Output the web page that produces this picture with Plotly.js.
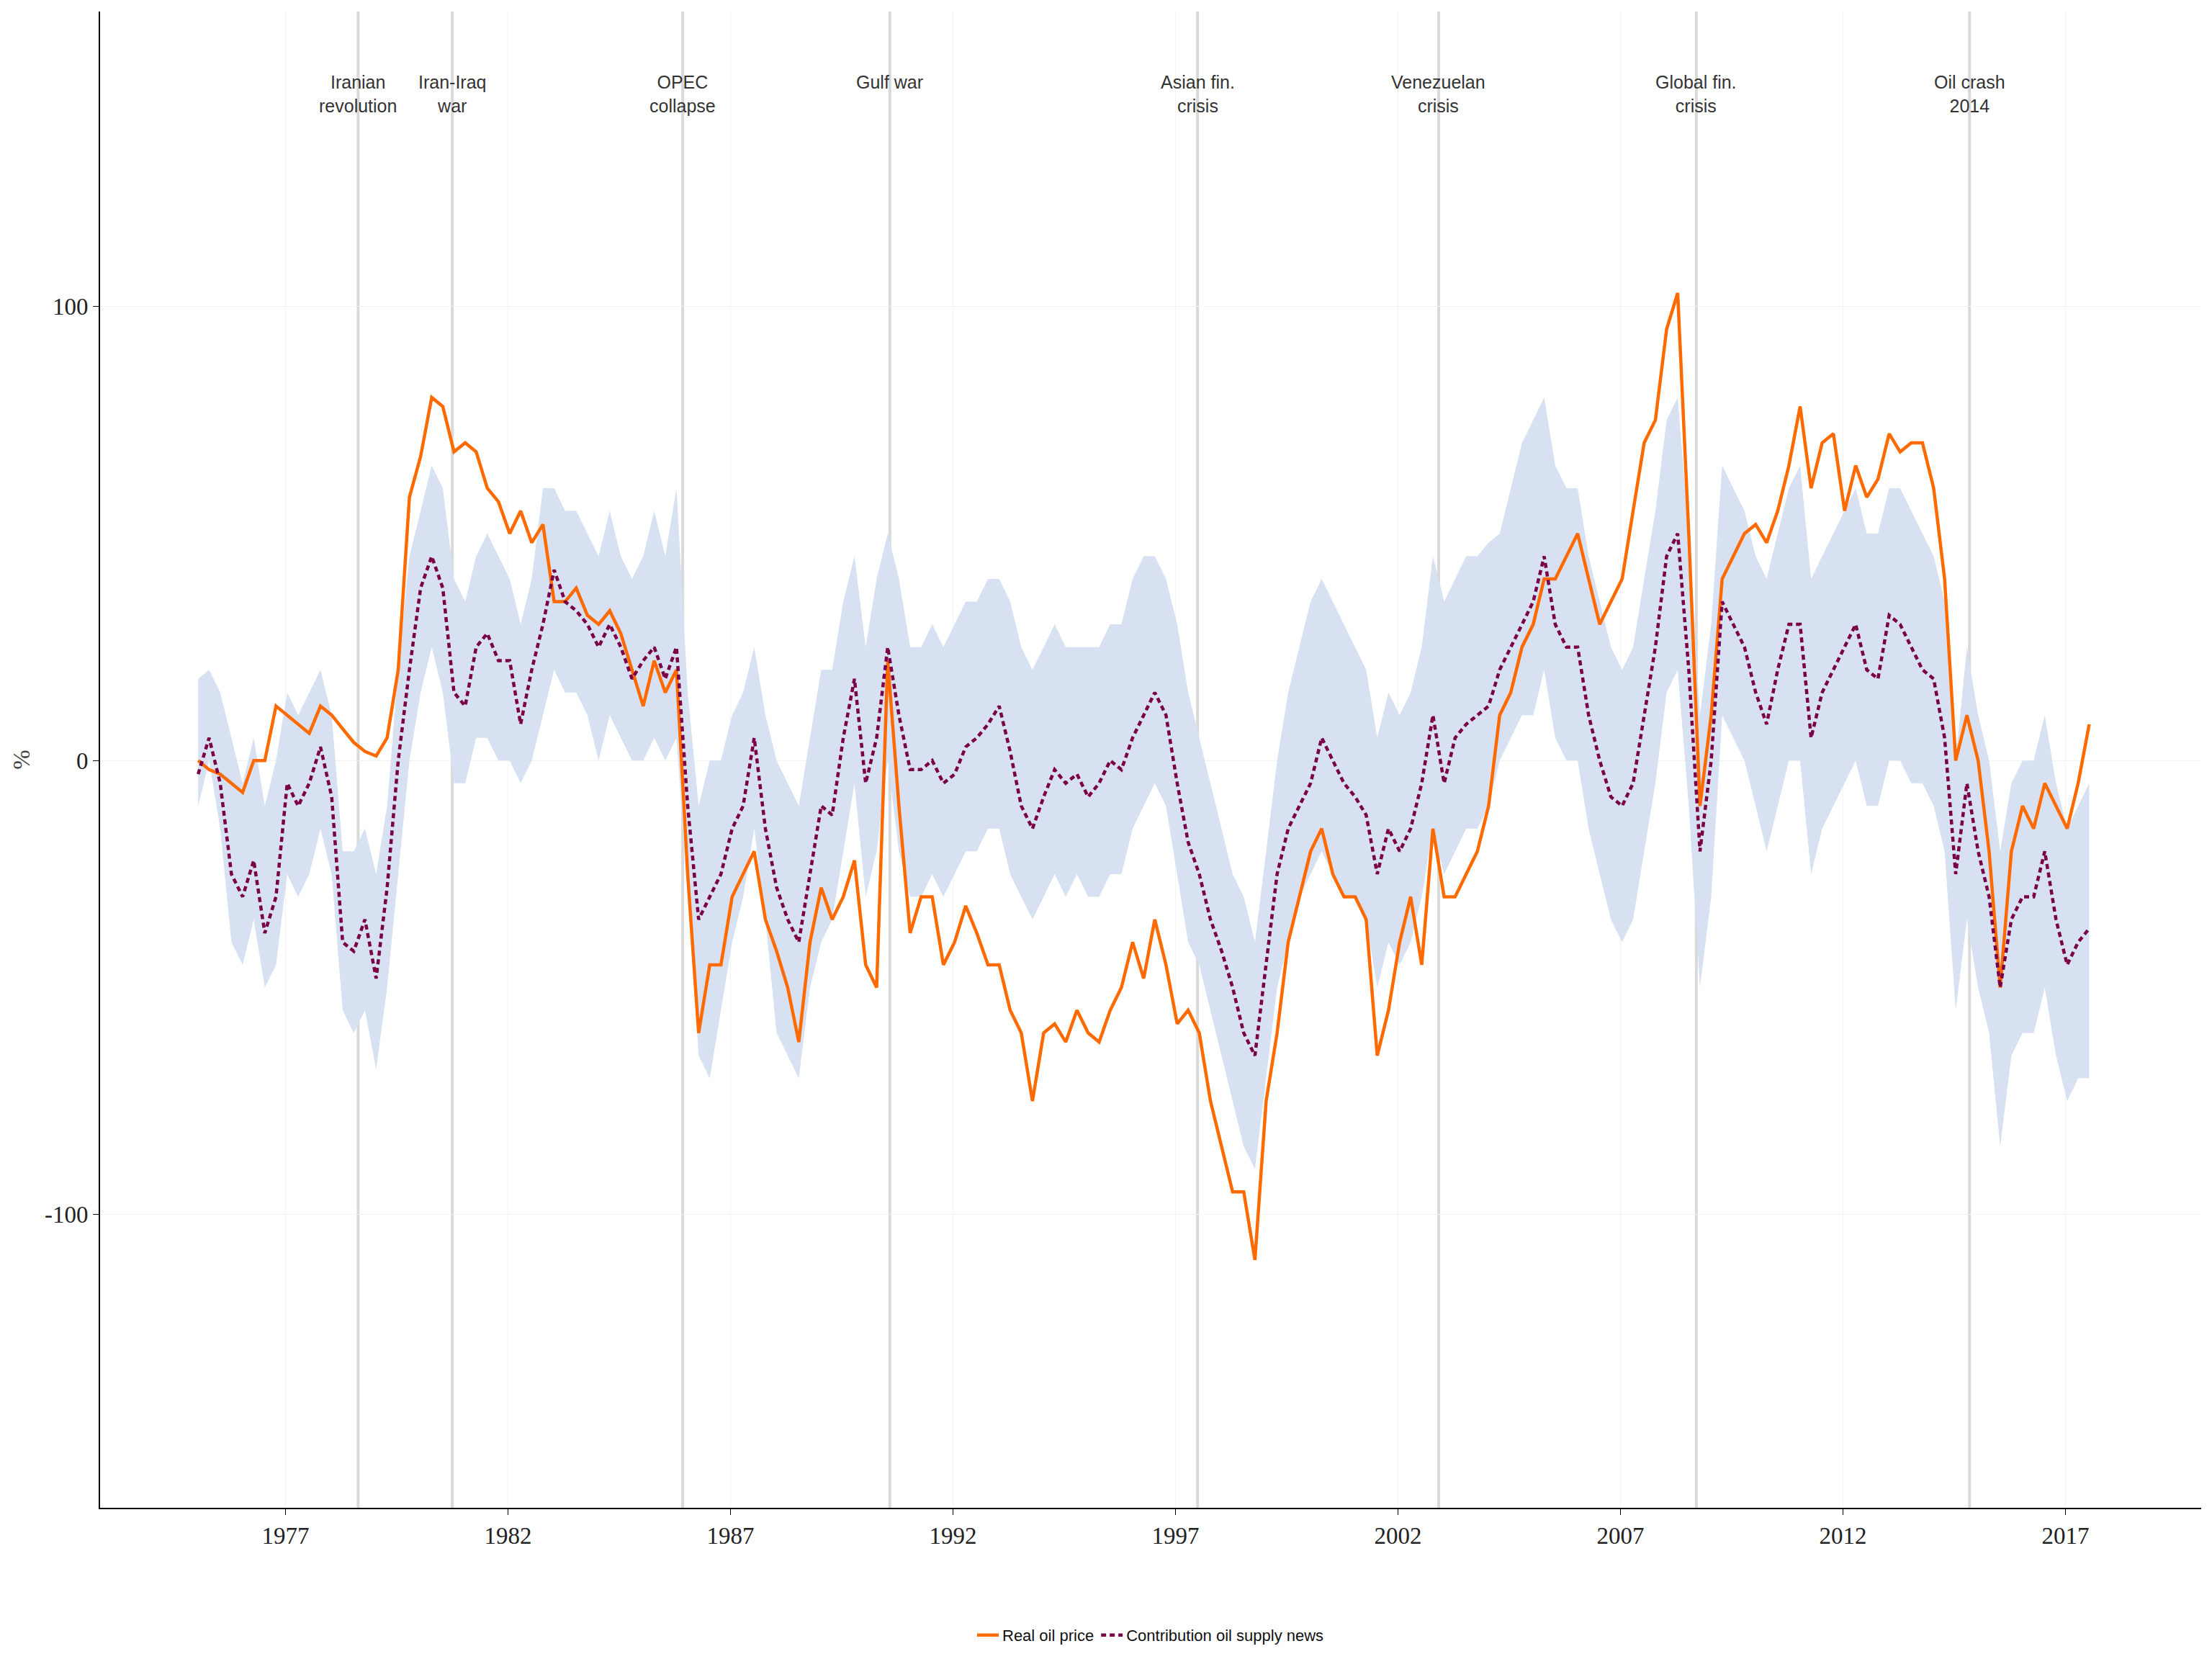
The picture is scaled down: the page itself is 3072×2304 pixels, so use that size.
<!DOCTYPE html>
<html>
<head>
<meta charset="utf-8">
<script src="https://cdn.plot.ly/plotly-3.0.1.min.js"></script>
<style>html,body{margin:0;padding:0;background:#fff}</style>
</head>
<body>
<div id="chart" style="width:3072px;height:2304px"></div>
<script>
// quarterly readings from 1975Q1
const startYear = 1975;
const oilPrice = [0,-2,-3,-5,-7,0,0,12,10,8,6,12,10,7,4,2,1,5,20,58,67,80,78,68,70,68,60,57,50,55,48,52,35,35,38,32,30,33,28,20,12,22,15,20,-25,-60,-45,-45,-30,-25,-20,-35,-42,-50,-62,-40,-28,-35,-30,-22,-45,-50,22,-10,-38,-30,-30,-45,-40,-32,-38,-45,-45,-55,-60,-75,-60,-58,-62,-55,-60,-62,-55,-50,-40,-48,-35,-45,-58,-55,-60,-75,-85,-95,-95,-110,-75,-60,-40,-30,-20,-15,-25,-30,-30,-35,-65,-55,-40,-30,-45,-15,-30,-30,-25,-20,-10,10,15,25,30,40,40,45,50,40,30,35,40,55,70,75,95,103,50,-10,10,40,45,50,52,48,55,65,78,60,70,72,55,65,58,62,72,68,70,70,60,40,0,10,0,-20,-50,-20,-10,-15,-5,-10,-15,-5,8];
const supplyNews = [-3,5,-5,-25,-30,-22,-38,-30,-5,-10,-5,3,-8,-40,-42,-35,-48,-28,0,20,38,45,38,15,12,25,28,22,22,8,20,30,42,35,33,30,25,30,25,18,22,25,18,25,-10,-35,-30,-25,-15,-10,5,-15,-28,-35,-40,-25,-10,-12,5,18,-5,5,25,10,-2,-2,0,-5,-3,3,5,8,12,2,-10,-15,-8,-2,-5,-3,-8,-5,0,-2,5,10,15,10,-5,-18,-25,-35,-42,-50,-60,-65,-45,-25,-15,-10,-5,5,0,-5,-8,-12,-25,-15,-20,-15,-5,10,-5,5,8,10,12,20,25,30,35,45,30,25,25,10,0,-8,-10,-5,10,25,45,50,20,-20,0,35,30,25,15,8,20,30,30,5,15,20,25,30,20,18,32,30,25,20,18,5,-25,-5,-20,-30,-50,-35,-30,-30,-20,-35,-45,-40,-37];
const bandLow = [-10,0,-15,-40,-45,-35,-50,-45,-25,-30,-25,-15,-25,-55,-60,-55,-68,-50,-25,0,15,25,15,-5,-5,5,5,0,0,-5,0,10,20,15,15,10,0,10,5,0,0,5,0,5,-30,-65,-70,-55,-40,-30,-15,-35,-60,-65,-70,-50,-40,-35,-20,-5,-30,-20,0,-20,-30,-30,-25,-30,-25,-20,-20,-15,-15,-25,-30,-35,-30,-25,-30,-25,-30,-30,-25,-25,-15,-10,-5,-10,-25,-40,-45,-55,-65,-75,-85,-90,-70,-50,-40,-30,-25,-20,-25,-30,-30,-35,-50,-40,-45,-40,-30,-15,-25,-20,-15,-15,-10,0,5,10,10,20,5,0,0,-15,-25,-35,-40,-35,-20,-5,15,20,-10,-50,-30,10,5,0,-10,-20,-10,0,0,-25,-15,-10,-5,0,-10,-10,0,0,-5,-5,-10,-20,-55,-35,-50,-60,-85,-65,-60,-60,-50,-65,-75,-70,-70];
const bandHigh = [18,20,15,5,-5,5,-10,0,15,10,15,20,10,-20,-20,-15,-25,-10,20,45,55,65,60,40,35,45,50,45,40,30,40,60,60,55,55,50,45,55,45,40,45,55,45,60,15,-10,0,0,10,15,25,10,0,-5,-10,5,20,20,35,45,25,40,50,40,25,25,30,25,30,35,35,40,40,35,25,20,25,30,25,25,25,25,30,30,40,45,45,40,30,15,5,-5,-15,-25,-30,-40,-20,0,15,25,35,40,35,30,25,20,5,15,10,15,25,45,35,40,45,45,48,50,60,70,75,80,65,60,60,45,35,25,20,25,40,55,75,80,50,10,30,65,60,55,45,40,50,60,65,40,45,50,55,60,50,50,60,60,55,50,45,35,0,25,10,0,-20,-5,0,0,10,-5,-15,-10,-5];

const events = [
  {date: "1978-08-20", label: "Iranian<br>revolution"},
  {date: "1980-10-01", label: "Iran-Iraq<br>war"},
  {date: "1985-12-05", label: "OPEC<br>collapse"},
  {date: "1990-08-01", label: "Gulf war"},
  {date: "1997-07-01", label: "Asian fin.<br>crisis"},
  {date: "2002-12-01", label: "Venezuelan<br>crisis"},
  {date: "2008-09-15", label: "Global fin.<br>crisis"},
  {date: "2014-11-05", label: "Oil crash<br>2014"}
];

let dates = [];
for (let i = 0; i < oilPrice.length; i++) {
  let m = startYear * 12 + i * 3;
  let y = Math.floor(m / 12), mo = m % 12 + 1;
  dates.push(y + "-" + String(mo).padStart(2, "0") + "-15");
}

let low = {x: dates, y: bandLow, mode: "lines", line: {width: 0}, hoverinfo: "skip", showlegend: false};
let high = {x: dates, y: bandHigh, mode: "lines", line: {width: 0}, fill: "tonexty", fillcolor: "#d7e1f1", hoverinfo: "skip", showlegend: false};
let price = {x: dates, y: oilPrice, mode: "lines", name: "Real oil price", line: {color: "#ff6a00", width: 4.5}};
let supply = {x: dates, y: supplyNews, mode: "lines", name: "Contribution oil supply news", line: {color: "#7a0047", width: 4.5, dash: "7px,5px"}};

let shapes = events.map(e => ({type: "line", xref: "x", yref: "paper", x0: e.date, x1: e.date, y0: 0, y1: 1, line: {color: "#d9d9d9", width: 4}, layer: "below"}));
let annotations = events.map(e => ({x: e.date, y: 152, yanchor: "top", xref: "x", yref: "y", text: e.label, showarrow: false, font: {family: "Liberation Sans, Arial", size: 25, color: "#333"}}));

Plotly.newPlot("chart", [low, high, price, supply], {
  width: 3072, height: 2304,
  margin: {l: 139, r: 15, t: 16, b: 170},
  paper_bgcolor: "#fff", plot_bgcolor: "#fff",
  shapes: shapes, annotations: annotations,
  xaxis: {type: "date", range: ["1972-11-01", "2020-01-20"], tickvals: ["1977-01-01","1982-01-01","1987-01-01","1992-01-01","1997-01-01","2002-01-01","2007-01-01","2012-01-01","2017-01-01"], ticktext: ["1977","1982","1987","1992","1997","2002","2007","2012","2017"],
    showline: true, linecolor: "#000", linewidth: 2, ticks: "outside", ticklen: 8, tickcolor: "#000", showgrid: true, gridcolor: "#f3f3f3", zeroline: false,
    tickfont: {family: "Liberation Serif, DejaVu Serif", size: 33, color: "#222"}},
  yaxis: {range: [-164.6, 165], tickvals: [-100, 0, 100], ticktext: ["-100", "0", "100"], showline: true, linecolor: "#000", linewidth: 2, ticks: "outside", ticklen: 8, tickcolor: "#000",
    showgrid: true, gridcolor: "#f3f3f3", zeroline: false, title: {text: "%", font: {family: "Liberation Serif, DejaVu Serif", size: 33}, standoff: 10},
    tickfont: {family: "Liberation Serif, DejaVu Serif", size: 33, color: "#222"}},
  legend: {orientation: "h", traceorder: "normal", x: 0.5, xanchor: "center", y: -0.075, yanchor: "top", font: {family: "Liberation Sans, Arial", size: 22, color: "#111"}}
}, {displayModeBar: false});
</script>
</body>
</html>
